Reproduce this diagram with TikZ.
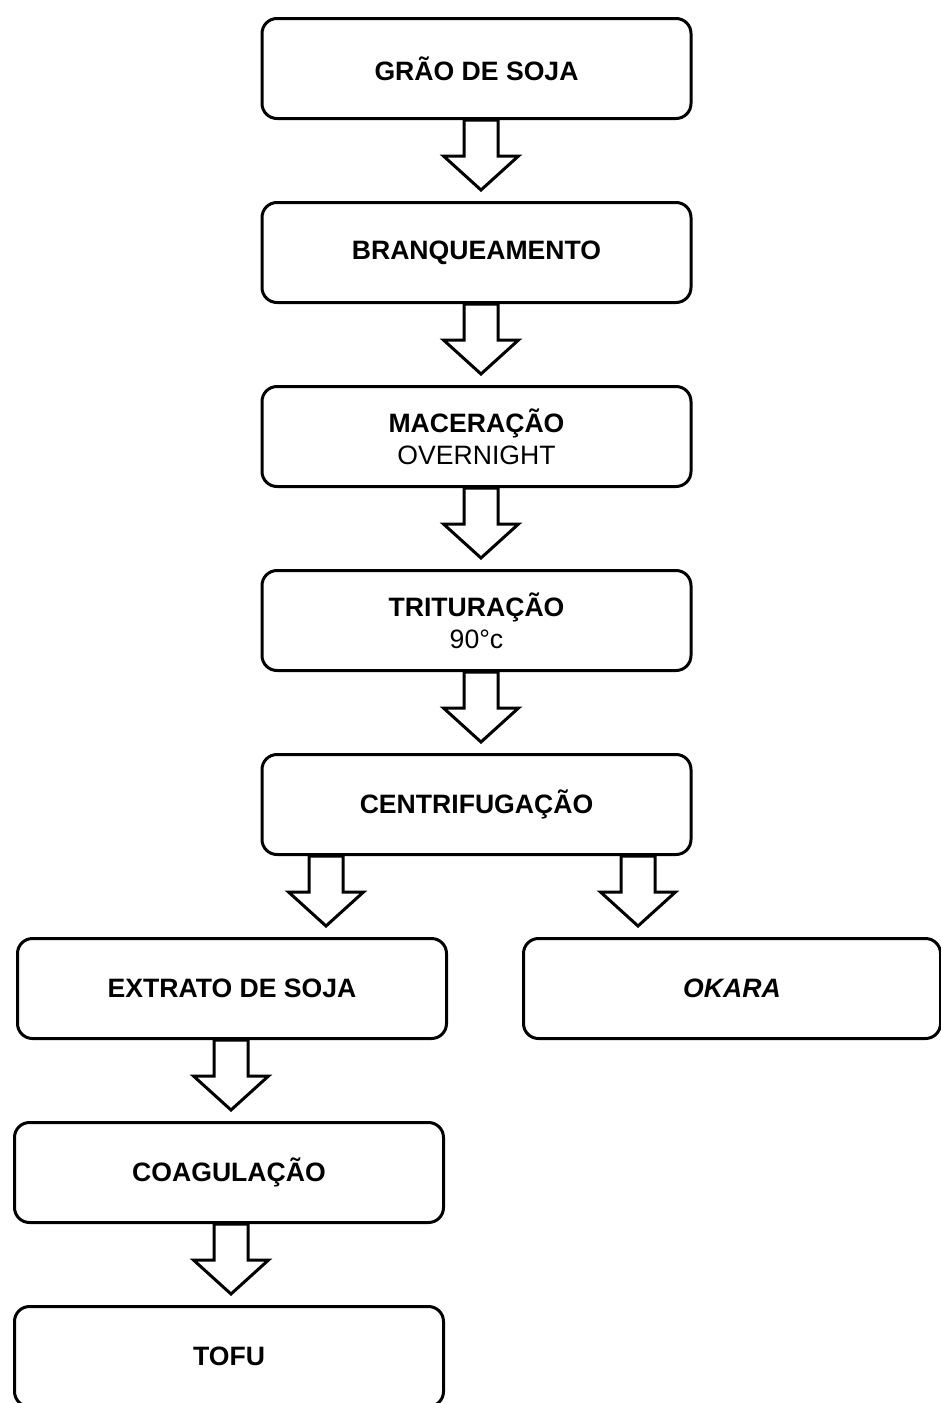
\documentclass[tikz,border=0pt]{standalone}
\usepackage{fontspec}
\setmainfont{Liberation Sans}
\usetikzlibrary{positioning,calc}

% seta larga (vazada) do fundo de #2 ate o topo de #3
\newcommand{\setabloco}[3][0pt]{%
  \draw[bloco] let \p1=($(#2.south)+(#1,0)$), \p2=(#3.north) in
    (\x1-8.5pt,\y1) -- (\x1-8.5pt,\y2+22.5pt) -- (\x1-18.75pt,\y2+22.5pt) -- (\x1,\y2+5.5pt)
    -- (\x1+18.75pt,\y2+22.5pt) -- (\x1+8.5pt,\y2+22.5pt) -- (\x1+8.5pt,\y1) -- cycle;}

\begin{document}
\begin{tikzpicture}[node distance=40.5pt,
                    caixa/.style={rectangle,rounded corners=7.5pt,draw,line width=1.5pt,
                      minimum width=214.5pt,minimum height=50pt,align=center,
                      font=\fontsize{13.3}{16}\selectfont\bfseries},
                    bloco/.style={draw,fill=white,line width=1.5pt,line join=miter}]
  \useasboundingbox (0,0) rectangle (470.5pt,-701.5pt);
  \clip (0,0) rectangle (470.5pt,-701.5pt);
  \node[caixa] (grao) at (238.25pt,-34.25pt) {GRÃO DE SOJA};
  \node[caixa] (branq) [below=of grao] {BRANQUEAMENTO};
  \node[caixa] (macer) [below=of branq] {MACERAÇÃO\\{\mdseries OVERNIGHT}};
  \node[caixa] (trit) [below=of macer] {TRITURAÇÃO\\{\mdseries 90°c}};
  \node[caixa] (centri) [below=of trit] {CENTRIFUGAÇÃO};
  \node[caixa] (extrato) [below=of centri,xshift=-122.25pt] {EXTRATO DE SOJA};
  \node[caixa,minimum width=208.5pt] (okara) [below=of centri,xshift=127.75pt] {\itshape OKARA};
  \node[caixa] (coag) [below=of extrato,xshift=-1.5pt] {COAGULAÇÃO};
  \node[caixa] (tofu) [below=of coag] {TOFU};
  \setabloco[2.25pt]{grao}{branq}
  \setabloco[2.25pt]{branq}{macer}
  \setabloco[2.25pt]{macer}{trit}
  \setabloco[2.25pt]{trit}{centri}
  \setabloco[-75.25pt]{centri}{extrato}
  \setabloco[80.75pt]{centri}{okara}
  \setabloco[-0.5pt]{extrato}{coag}
  \setabloco[1pt]{coag}{tofu}
\end{tikzpicture}
\end{document}
